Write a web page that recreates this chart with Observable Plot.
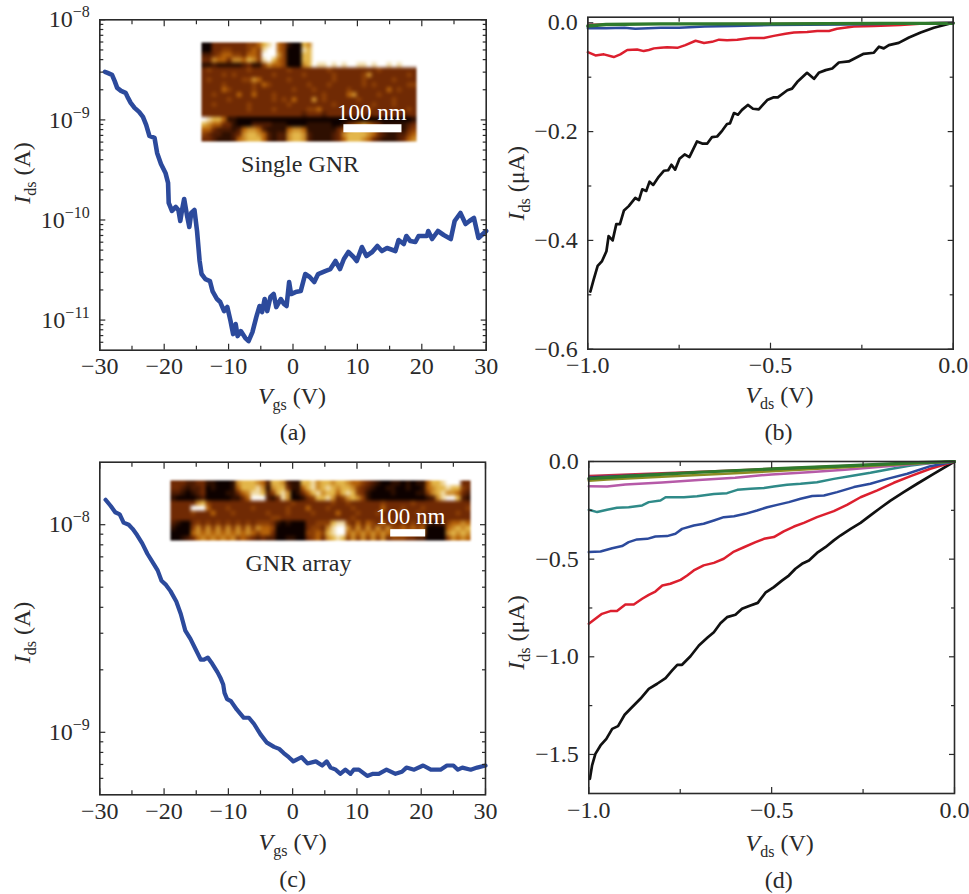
<!DOCTYPE html>
<html><head><meta charset="utf-8">
<script src="https://cdn.jsdelivr.net/npm/d3@7"></script>
<script src="https://cdn.jsdelivr.net/npm/@observablehq/plot@0.6"></script>
<style>
html,body{margin:0;padding:0;background:#fff}
#root{position:relative;width:969px;height:894px;overflow:hidden}
#root svg{position:absolute;overflow:visible;background:transparent}
#root image{filter:blur(0.9px)}
</style></head><body><div id="root"></div>
<script>
// ---- panel (a): single GNR transfer curve (Vgs in V, log10 of Ids in A)
const aVgs=[-29.2,-28.8,-28.1,-27.7,-27.3,-26.7,-26.0,-25.7,-25.2,-24.6,-23.9,-23.3,-22.8,-22.3,-21.5,-21.1,-20.5,-19.8,-19.4,-19.3,-18.8,-18.2,-17.8,-17.5,-17.2,-16.9,-16.5,-16.1,-15.8,-15.3,-14.9,-14.5,-14.2,-13.6,-12.9,-12.5,-11.8,-11.3,-10.7,-10.2,-9.7,-9.3,-8.9,-8.6,-8.1,-7.4,-6.9,-6.3,-5.7,-5.2,-4.8,-4.4,-4.0,-3.5,-3.0,-2.6,-1.9,-1.4,-1.0,-0.6,-0.3,0.4,1.2,1.9,2.6,3.3,3.9,5.0,5.8,6.6,7.3,7.9,8.6,9.4,9.9,10.7,11.4,12.3,13.1,13.8,14.6,15.9,16.4,17.2,17.6,18.2,19.0,19.5,20.8,21.0,21.6,22.5,23.4,24.5,25.1,26.0,26.8,27.4,28.1,28.8,30];
const aLogI=[-8.52,-8.53,-8.55,-8.61,-8.68,-8.71,-8.73,-8.77,-8.83,-8.88,-8.92,-8.97,-9.05,-9.16,-9.18,-9.33,-9.44,-9.53,-9.63,-9.83,-9.91,-9.87,-9.90,-10.01,-9.89,-9.79,-9.94,-10.07,-9.93,-9.90,-10.11,-10.41,-10.54,-10.59,-10.61,-10.71,-10.79,-10.82,-10.91,-10.87,-11.01,-11.14,-11.04,-11.16,-11.11,-11.18,-11.21,-11.12,-10.97,-10.86,-10.92,-10.79,-10.91,-10.77,-10.74,-10.87,-10.79,-10.84,-10.86,-10.62,-10.74,-10.72,-10.71,-10.54,-10.57,-10.62,-10.54,-10.51,-10.49,-10.41,-10.49,-10.39,-10.32,-10.37,-10.41,-10.27,-10.36,-10.32,-10.26,-10.31,-10.28,-10.31,-10.20,-10.24,-10.16,-10.21,-10.22,-10.16,-10.16,-10.11,-10.19,-10.11,-10.15,-10.19,-10.01,-9.93,-10.04,-10.01,-9.98,-10.18,-10.11];
// ---- panel (c): GNR array transfer curve
const cVgs=[-29.1,-28.3,-27.6,-26.9,-26.3,-25.5,-24.9,-24.2,-23.4,-22.6,-21.6,-21.0,-20.4,-19.7,-19.0,-18.1,-17.4,-16.7,-15.9,-15.1,-14.3,-13.8,-13.2,-12.5,-11.7,-11.2,-10.8,-10.6,-10.2,-9.6,-8.7,-7.6,-6.8,-6.0,-5.0,-4.0,-2.9,-2.1,-1.4,-0.6,0.1,0.7,1.4,2.3,3.6,4.6,5.3,5.9,6.7,7.4,8.2,9.0,9.5,10.3,11.6,12.5,13.4,14.6,16.0,17.0,17.7,18.9,20.3,21.5,23.0,24.0,25.0,25.7,26.4,27.7,28.7,30];
const cLogI=[-7.88,-7.91,-7.94,-7.95,-7.99,-8.00,-8.02,-8.05,-8.09,-8.14,-8.19,-8.22,-8.27,-8.29,-8.32,-8.37,-8.43,-8.51,-8.55,-8.60,-8.65,-8.65,-8.64,-8.67,-8.71,-8.74,-8.77,-8.81,-8.84,-8.85,-8.89,-8.93,-8.93,-8.96,-9.01,-9.05,-9.07,-9.08,-9.10,-9.12,-9.14,-9.13,-9.12,-9.15,-9.14,-9.16,-9.14,-9.17,-9.18,-9.20,-9.18,-9.20,-9.18,-9.18,-9.21,-9.20,-9.20,-9.18,-9.20,-9.19,-9.17,-9.18,-9.16,-9.18,-9.18,-9.16,-9.16,-9.18,-9.17,-9.18,-9.17,-9.16];
// ---- panel (b): output curves (Vds in V, Ids in uA)
const bBlackV=[-0.993,-0.984,-0.973,-0.961,-0.949,-0.943,-0.932,-0.922,-0.912,-0.901,-0.888,-0.870,-0.860,-0.851,-0.840,-0.831,-0.821,-0.806,-0.792,-0.780,-0.771,-0.761,-0.749,-0.735,-0.722,-0.701,-0.687,-0.673,-0.660,-0.646,-0.632,-0.619,-0.611,-0.600,-0.589,-0.578,-0.562,-0.548,-0.532,-0.509,-0.491,-0.480,-0.454,-0.441,-0.427,-0.400,-0.381,-0.368,-0.349,-0.331,-0.313,-0.286,-0.245,-0.217,-0.203,-0.190,-0.176,-0.149,-0.121,-0.089,-0.053,0];
const bBlackI=[-0.494,-0.472,-0.447,-0.438,-0.420,-0.392,-0.400,-0.370,-0.370,-0.345,-0.337,-0.322,-0.326,-0.306,-0.309,-0.292,-0.298,-0.283,-0.272,-0.271,-0.261,-0.270,-0.250,-0.242,-0.247,-0.218,-0.222,-0.222,-0.210,-0.209,-0.198,-0.186,-0.185,-0.166,-0.169,-0.160,-0.151,-0.158,-0.159,-0.142,-0.137,-0.137,-0.124,-0.121,-0.109,-0.092,-0.103,-0.092,-0.087,-0.084,-0.073,-0.071,-0.057,-0.055,-0.044,-0.047,-0.041,-0.037,-0.027,-0.018,-0.009,0];
const bRedV=[-1,-0.979,-0.956,-0.929,-0.911,-0.892,-0.865,-0.847,-0.833,-0.819,-0.801,-0.783,-0.755,-0.733,-0.705,-0.682,-0.660,-0.641,-0.619,-0.591,-0.555,-0.518,-0.491,-0.459,-0.436,-0.400,-0.372,-0.340,-0.318,-0.272,-0.217,-0.144,-0.071,0];
const bRedI=[-0.054,-0.060,-0.058,-0.063,-0.058,-0.050,-0.049,-0.052,-0.050,-0.047,-0.046,-0.045,-0.046,-0.041,-0.033,-0.037,-0.035,-0.031,-0.032,-0.031,-0.028,-0.028,-0.024,-0.020,-0.018,-0.017,-0.015,-0.015,-0.011,-0.007,-0.006,-0.004,-0.001,0];
const bBlueV=[-1,-0.95,-0.9,-0.87,-0.8,-0.75,-0.68,-0.6,-0.5,-0.3,-0.2,0];
const bBlueI=[-0.010,-0.010,-0.009,-0.011,-0.009,-0.009,-0.007,-0.006,-0.004,-0.003,-0.002,0];
const bPurpleV=[-1,-0.9,-0.7,-0.4,0];
const bPurpleI=[-0.003,-0.002,-0.002,-0.001,0];
const bGreenV=[-1,-0.95,-0.8,-0.5,-0.2,0];
const bGreenI=[-0.006,-0.003,-0.002,-0.002,-0.001,-0.001];
// ---- panel (d): output curves
const dBlackV=[-0.997,-0.991,-0.982,-0.968,-0.952,-0.936,-0.920,-0.902,-0.886,-0.859,-0.836,-0.813,-0.790,-0.772,-0.758,-0.745,-0.722,-0.699,-0.676,-0.658,-0.640,-0.622,-0.599,-0.581,-0.558,-0.538,-0.517,-0.494,-0.471,-0.453,-0.435,-0.417,-0.398,-0.376,-0.353,-0.330,-0.312,-0.284,-0.257,-0.230,-0.202,-0.175,-0.139,-0.102,-0.057,0];
const dBlackI=[-1.625,-1.556,-1.497,-1.454,-1.420,-1.369,-1.355,-1.297,-1.266,-1.215,-1.164,-1.138,-1.109,-1.070,-1.041,-1.041,-0.997,-0.942,-0.903,-0.874,-0.828,-0.797,-0.785,-0.754,-0.737,-0.724,-0.672,-0.643,-0.609,-0.584,-0.549,-0.524,-0.507,-0.468,-0.439,-0.404,-0.379,-0.345,-0.314,-0.276,-0.237,-0.200,-0.157,-0.114,-0.063,0];
const dRedV=[-1,-0.982,-0.964,-0.941,-0.923,-0.900,-0.877,-0.854,-0.836,-0.818,-0.799,-0.777,-0.749,-0.731,-0.713,-0.686,-0.658,-0.631,-0.603,-0.576,-0.544,-0.521,-0.494,-0.467,-0.439,-0.412,-0.376,-0.330,-0.294,-0.257,-0.211,-0.166,-0.120,-0.066,0];
const dRedI=[-0.831,-0.805,-0.780,-0.766,-0.766,-0.732,-0.732,-0.703,-0.683,-0.666,-0.635,-0.626,-0.606,-0.584,-0.558,-0.532,-0.519,-0.498,-0.461,-0.439,-0.413,-0.396,-0.387,-0.358,-0.333,-0.314,-0.285,-0.254,-0.222,-0.183,-0.148,-0.109,-0.075,-0.037,0];
const dBlueV=[-1,-0.968,-0.936,-0.909,-0.891,-0.868,-0.840,-0.818,-0.786,-0.763,-0.745,-0.713,-0.686,-0.658,-0.631,-0.603,-0.572,-0.540,-0.512,-0.485,-0.453,-0.421,-0.389,-0.357,-0.321,-0.275,-0.230,-0.184,-0.129,-0.066,0];
const dBlueI=[-0.464,-0.461,-0.444,-0.433,-0.413,-0.399,-0.396,-0.384,-0.382,-0.370,-0.345,-0.328,-0.319,-0.302,-0.285,-0.280,-0.268,-0.251,-0.234,-0.222,-0.208,-0.191,-0.177,-0.174,-0.157,-0.131,-0.114,-0.089,-0.063,-0.024,0];
const dTealV=[-1,-0.977,-0.950,-0.923,-0.891,-0.854,-0.836,-0.804,-0.790,-0.768,-0.740,-0.704,-0.658,-0.622,-0.594,-0.558,-0.521,-0.494,-0.458,-0.421,-0.376,-0.330,-0.275,-0.230,-0.175,-0.120,-0.057,0];
const dTealI=[-0.247,-0.259,-0.247,-0.237,-0.234,-0.225,-0.208,-0.200,-0.183,-0.183,-0.183,-0.178,-0.167,-0.162,-0.145,-0.140,-0.136,-0.128,-0.119,-0.114,-0.106,-0.089,-0.072,-0.058,-0.038,-0.021,-0.007,0];
const dMagentaV=[-1,-0.95,-0.9,-0.8,-0.7,-0.6,-0.5,-0.4,-0.3,-0.2,-0.1,0];
const dMagentaI=[-0.127,-0.128,-0.118,-0.107,-0.095,-0.083,-0.066,-0.055,-0.042,-0.027,-0.012,0];
const dOliveV=[-1,-0.95,-0.8,-0.6,-0.4,-0.2,0];
const dOliveI=[-0.098,-0.092,-0.078,-0.060,-0.040,-0.019,0];
const dCrimsonV=[-1,-0.8,-0.6,-0.4,-0.2,0];
const dCrimsonI=[-0.072,-0.058,-0.044,-0.029,-0.014,0];
const dNavyV=[-1,-0.8,-0.6,-0.4,-0.2,0];
const dNavyI=[-0.080,-0.064,-0.047,-0.031,-0.015,0];
const dGreenV=[-1,-0.9,-0.7,-0.5,-0.3,-0.1,0];
const dGreenI=[-0.088,-0.076,-0.055,-0.038,-0.022,-0.006,0];
// ---- ticks
const vgsTicks=[-30,-20,-10,0,10,20,30];
const vgsMinor=[-25,-15,-5,5,15,25];
const vdsTicks=[-1,-0.5,0];
const vdsMinor=[-0.75,-0.25];
const aExps=[-8,-9,-10,-11];
const cExps=[-8,-9];
const bTicks=[0,-0.2,-0.4,-0.6];
const bMinor=[-0.1,-0.3,-0.5];
const dTicks=[0,-0.5,-1.0,-1.5];
const dMinor=[-0.25,-0.75,-1.25];
const logMult=[2,3,4,5,6,7,8,9];
// ---- AFM insets: height levels per row (0 dark ... 9 white)
const insetARows=[
"00 3333 333 44 5 789 54 100 76 999999999999999999999",
"00 3344 333 45 4 899 54 000 87 999999999999999999999",
"22 3455 443 55 4 999 64 000 77 999999999999999999999",
"33 6553 665 76 4 897 54 000 77 999999999999999999999",
"11 2111 112 31 1 465 54 000 67 988989899889899898999",
"3433333334333333343333333433333333343333333",
"3333434333333343333343333343333346333333343",
"3433333344653333343333333343333343333343333",
"3333433333435433333334333433333343433333344",
"3333543333433333334333433333343333333534333",
"3343333533533343333333334333356333343333333",
"3333343333333343435333634333333433333343333",
"3343333334333333343333333343333333433343333",
"3333333334333343333334453333333334333333343",
"3333333333333333333323332333333332333333233",
"9877511000000000000000000000000000000000001",
"7655331000222211100001111100134565431111123",
"5532221256652111156651111113467766531111134",
"4322112367765212267762111123677776532112245",
"3321112567775212267762111123577765321112356"];
const insetCRows=[
"333 2233 110001 677765 2 7762 11 7786776 7765543 2100110101 1 5778999 33",
"332 1223 010001 577786 1 6773 11 5786787 6776432 1001100100 1 5677877 43",
"221 0123 000011 356887 2 4786 01 3578677 5787431 0000100001 1 4678665 32",
"100 0012 000001 135999 2 1386 00 1347786 3467641 0000000000 0 1268997 21",
"333336743333333333333333433333334334333333433333433333333333",
"333399953334333343333334333533343333433333533343334333333334",
"333343335333433333343334333343333533343334333433343333333433",
"333333333333333333334433333333333333433333333333333333333333",
"2100 34343434343434 443 101000 3344 4788 4353543534 343434 2122 45565",
"1000 46464646464646 554 000000 3443 6899 6464646464 454545 0000 56767",
"0000 56565656565654 553 000000 4454 7899 5656565656 555445 0000 67676",
"0012 35656565645432 322 001100 3453 6787 4646464634 443322 0000 46565"];
const insetAWidthNm=370, insetAHeightNm=171;
const insetCWidthNm=857, insetCHeightNm=171;
const barA={x1:245,x2:345,y1:142,y2:156}, barC={x1:629,x2:729,y1:140,y2:161};
const afmDomain=[0,3,4,5,7,9];
const afmRange=["#0d0100","#702a04","#8c3f06","#b5620a","#e3b64a","#ffffff"];

// ---- colours
const cBlue="#2c4a9c",cBlack="#111",cRed="#dc1f2e",cTeal="#2f8a88",cMagenta="#b65aa8",cOlive="#8c8c24",cGreen="#2f7a2c",cNavy="#2a2a70",cCrimson="#c0304a",cInk="#2a2a2a";

const FONT="Liberation Serif",FS=24;
const serie=(X,Y,stroke,strokeWidth,f=d=>d)=>Plot.line(X.map((v,i)=>({v,i:f(Y[i])})),{x:"v",y:"i",stroke,strokeWidth,strokeLinejoin:"round",strokeLinecap:"round"});

function rich(svg){
  d3.select(svg).selectAll("text").each(function(){
    const s=this.textContent;
    if(!/[\^_*]/.test(s))return;
    const el=d3.select(this);el.selectAll("*").remove();this.textContent="";
    let pendingDy=0;
    for(const t of s.match(/\*[^*]+\*|_[^_]+_|\^[^^]+\^|[^*_^]+/g)){
      const ts=el.append("tspan");
      if(t[0]==="*"){ts.attr("font-style","italic").text(t.slice(1,-1));if(pendingDy){ts.attr("dy",pendingDy);pendingDy=0;}}
      else if(t[0]==="_"){ts.attr("font-size",16).attr("dy",6).text(t.slice(1,-1));pendingDy=-6;}
      else if(t[0]==="^"){ts.attr("font-size",16).attr("dy",-10).text(t.slice(1,-1));pendingDy=10;}
      else {ts.text(t);if(pendingDy){ts.attr("dy",pendingDy);pendingDy=0;}}
    }
  });
}

function panel(o){
  const {left,top,width,height,frame,xDomain,yDomain,yType,xT,xM,yT,yM,xFmt,yFmt,marks,xl,yl,cap}=o;
  const [fl,ft,fr,fb]=frame;
  const tk={stroke:cInk,strokeWidth:1.2,fill:"none",label:null};
  const plot=Plot.plot({
    width,height,marginLeft:fl-left,marginTop:ft-top,marginRight:left+width-fr,marginBottom:top+height-fb,
    x:{domain:xDomain,label:null},y:{domain:yDomain,type:yType||"linear",label:null},
    style:{fontFamily:FONT,fontSize:FS+"px",color:cInk,background:"transparent"},
    marks:[
      ...marks,
      Plot.axisX(xT,{anchor:"bottom",tickSize:0,tickPadding:7,tickFormat:xFmt,fontSize:FS,fontVariant:"normal",fill:cInk,label:null}),
      Plot.axisY(yT,{anchor:"left",tickSize:0,tickPadding:o.yPad,tickFormat:yFmt,fontSize:FS,fontVariant:"normal",fill:cInk,label:null}),
      ...["bottom","top"].flatMap(a=>[Plot.axisX(xT,{anchor:a,tickSize:-6,...tk}),Plot.axisX(xM,{anchor:a,tickSize:-4,...tk})]),
      ...["left","right"].flatMap(a=>[Plot.axisY(yT,{anchor:a,tickSize:-6,...tk}),Plot.axisY(yM,{anchor:a,tickSize:-4,...tk})]),
      Plot.frame({stroke:cInk,strokeWidth:1.6}),
      Plot.text([xl[0]],{frameAnchor:"bottom",dx:xl[1],dy:xl[2],fontSize:FS,fill:cInk,lineAnchor:"middle"}),
      Plot.text([cap[0]],{frameAnchor:"bottom",dx:cap[1],dy:cap[2],fontSize:FS,fill:cInk,lineAnchor:"middle"}),
      Plot.text([yl[0]],{frameAnchor:"left",dx:yl[1],dy:yl[2],rotate:-90,fontSize:FS,fill:cInk,textAnchor:"middle",lineAnchor:"middle"}),
      ...(o.notes||[])
    ]
  });
  plot.style.left=left+"px";plot.style.top=top+"px";
  rich(plot);
  document.getElementById("root").appendChild(plot);
}

function inset(rows,cols,W,H,bar,label,lx,ly,left,top,pxW,pxH){
  const clean=rows.map(r=>r.replace(/ /g,"").padEnd(cols,"3").slice(0,cols));
  const values=clean.flatMap(r=>[...r].map(Number));
  const plot=Plot.plot({
    width:pxW,height:pxH,margin:0,
    x:{domain:[0,W],axis:null},y:{domain:[H,0],axis:null},
    color:{type:"linear",domain:afmDomain,range:afmRange,clamp:true},
    style:{fontFamily:FONT,background:"transparent"},
    marks:[
      Plot.raster(values,{width:cols,height:rows.length,x1:0,x2:W,y1:0,y2:H,fill:d=>d,imageRendering:"auto"}),
      Plot.rect([bar],{x1:"x1",x2:"x2",y1:"y1",y2:"y2",fill:"#fff",inset:0}),
      Plot.text([label],{x:lx,y:ly,fill:"#fff",fontSize:23,textAnchor:"middle",lineAnchor:"middle"})
    ]
  });
  plot.style.left=left+"px";plot.style.top=top+"px";
  document.getElementById("root").appendChild(plot);
}

const logFmt=d=>`10^${d3.format("d")(Math.round(Math.log10(d)))}^`;
const f0=d3.format("d"),f1=d3.format(".1f");
const minors=exps=>[...exps,exps[exps.length-1]-1].flatMap(e=>logMult.map(m=>m*10**e));

panel({left:0,top:0,width:500,height:445,frame:[99.3,19.3,485.7,349.7],
  xDomain:[-30,30],yDomain:[5e-12,1e-8],yType:"log",xT:vgsTicks,xM:vgsMinor,
  yT:aExps.map(e=>10**e),yM:minors(aExps).filter(v=>v>5e-12&&v<1e-8),xFmt:f0,yFmt:logFmt,yPad:10,
  marks:[serie(aVgs,aLogI,cBlue,4.6,e=>10**e)],
  xl:["*V*_gs_ (V)",-1,46],cap:["(a)",0,82],yl:["*I*_ds_ (A)",-77,-12],
  notes:[Plot.text(["Single GNR"],{x:1.1,y:3.6e-10,fontSize:FS,fill:cInk,lineAnchor:"middle"})]});

panel({left:500,top:0,width:469,height:445,frame:[587.3,16.7,952.7,348.7],
  xDomain:[-1,0],yDomain:[-0.6,0.0103],xT:vdsTicks,xM:vdsMinor,yT:bTicks,yM:bMinor,xFmt:f1,yFmt:f1,yPad:10,
  marks:[serie(bBlackV,bBlackI,cBlack,2.7),serie(bRedV,bRedI,cRed,2.5),serie(bBlueV,bBlueI,cBlue,2.5),serie(bPurpleV,bPurpleI,cCrimson,1.8),serie(bGreenV,bGreenI,cGreen,3.4)],
  xl:["*V*_ds_ (V)",9,46],cap:["(b)",8,83],yl:["*I*_ds_ (μA)",-71,0]});

panel({left:0,top:445,width:500,height:449,frame:[99.3,461.7,485,794.3],
  xDomain:[-30,30],yDomain:[5e-10,2e-8],yType:"log",xT:vgsTicks,xM:vgsMinor,
  yT:cExps.map(e=>10**e),yM:minors(cExps).filter(v=>v>5e-10&&v<2e-8),xFmt:f0,yFmt:logFmt,yPad:10,
  marks:[serie(cVgs,cLogI,cBlue,4.2,e=>10**e)],
  xl:["*V*_gs_ (V)",0,48],cap:["(c)",0,85],yl:["*I*_ds_ (A)",-77,4],
  notes:[Plot.text(["GNR array"],{x:0.9,y:6.5e-9,fontSize:FS,fill:cInk,lineAnchor:"middle"})]});

panel({left:500,top:445,width:469,height:449,frame:[588.3,461,954,793],
  xDomain:[-1,0],yDomain:[-1.7,0],xT:vdsTicks,xM:vdsMinor,yT:dTicks,yM:dMinor,xFmt:f1,yFmt:f1,yPad:10,
  marks:[serie(dBlackV,dBlackI,cBlack,2.7),serie(dRedV,dRedI,cRed,2.5),serie(dBlueV,dBlueI,cBlue,2.5),serie(dTealV,dTealI,cTeal,2.5),serie(dMagentaV,dMagentaI,cMagenta,2.5),serie(dOliveV,dOliveI,cOlive,2.6),serie(dCrimsonV,dCrimsonI,cCrimson,1.8),serie(dNavyV,dNavyI,cNavy,1.8),serie(dGreenV,dGreenI,cGreen,3.2)],
  xl:["*V*_ds_ (V)",8,50],cap:["(d)",7,87],yl:["*I*_ds_ (μA)",-72,5]});

inset(insetARows,43,insetAWidthNm,insetAHeightNm,barA,"100 nm",293,121,201,42,215,99);
inset(insetCRows,60,insetCWidthNm,insetCHeightNm,barC,"100 nm",686,102,169.7,480,300,60);
</script></body></html>
